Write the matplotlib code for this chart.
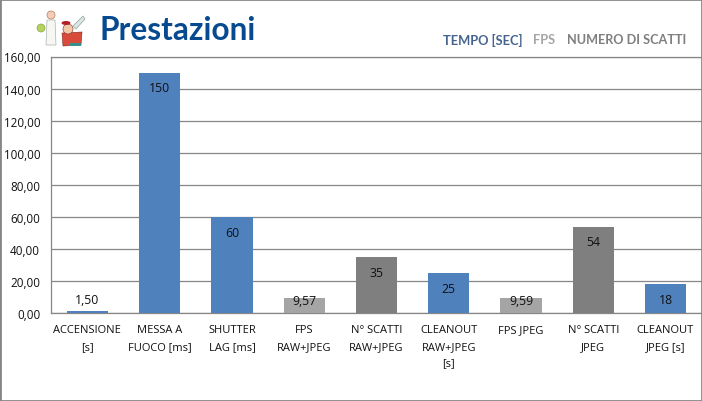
import matplotlib
matplotlib.use("Agg")
import matplotlib.pyplot as plt
from matplotlib.patches import Circle, Ellipse, Polygon, Rectangle

#%% Dati

categorie = ["ACCENSIONE\n[s]", "MESSA A\nFUOCO [ms]", "SHUTTER\nLAG [ms]",
             "FPS\nRAW+JPEG", "N° SCATTI\nRAW+JPEG", "CLEANOUT\nRAW+JPEG\n[s]",
             "FPS JPEG", "N° SCATTI\nJPEG", "CLEANOUT\nJPEG [s]"]
valori = [1.5, 150, 60, 9.57, 35, 25, 9.59, 54, 18]
etichette = ["1,50", "150", "60", "9,57", "35", "25", "9,59", "54", "18"]
gruppi = ["t", "t", "t", "f", "n", "t", "f", "n", "t"]
tick_y = [0, 20, 40, 60, 80, 100, 120, 140, 160]

colori = {"t": "#4F81BD", "f": "#A5A5A5", "n": "#7F7F7F"}
W, H = 702, 402

plt.rcParams["font.family"] = ["Open Sans", "DejaVu Sans"]

fig = plt.figure(figsize=(W / 100, H / 100), dpi=100)
ax = fig.add_axes([51.3 / W, 1 - 314.3 / H, 650.3 / W, (314.3 - 57.5) / H])

x = list(range(len(valori)))
ax.bar(x, valori, width=0.57, color=[colori[g] for g in gruppi], zorder=3)

ax.set_xlim(-0.5, len(valori) - 0.5)
ax.set_ylim(0, 160)
ax.set_yticks(tick_y)
ax.set_yticklabels([f"{v},00" for v in tick_y], fontsize=8.4, color="#111111")
ax.set_xticks(x)
ax.set_xticklabels(categorie, fontsize=8.0, color="#111111", linespacing=1.68)
ax.tick_params(axis="both", length=0)
ax.tick_params(axis="x", pad=8)
ax.tick_params(axis="y", pad=8)
ax.grid(axis="y", color="#868686", linewidth=0.9, zorder=1)
for lato in ["top", "right"]:
    ax.spines[lato].set_visible(False)
for lato in ["left", "bottom"]:
    ax.spines[lato].set_color("#868686")
    ax.spines[lato].set_linewidth(0.9)
ax.plot([0, 1], [1, 1], transform=ax.transAxes, color="#868686", lw=0.9, clip_on=False)

# Etichette dei valori
for xi, v, txt in zip(x, valori, etichette):
    if v < 5:
        off = 8
    elif v < 10:
        off = -2
    else:
        off = -11
    ax.annotate(txt, (xi, v), xytext=(0, off), textcoords="offset points",
                ha="center", va="center", fontsize=8.8, color="#111111", zorder=4)

# Titolo e legenda
fig.text(100 / W, 1 - 30 / H, "Prestazioni", family="Lato", fontweight="bold",
         fontsize=22.8, color="#074A8F", ha="left", va="center")
fig.text(443 / W, 1 - 40.5 / H, "TEMPO [SEC]", family="Lato", fontweight="bold",
         fontsize=9.3, color="#44648F", ha="left", va="center")
fig.text(533 / W, 1 - 40.5 / H, "FPS", family="Lato", fontweight="bold",
         fontsize=9.2, color="#A5A5A5", ha="left", va="center")
fig.text(567 / W, 1 - 40.5 / H, "NUMERO DI SCATTI", family="Lato", fontweight="bold",
         fontsize=9.1, color="#7F7F7F", ha="left", va="center")

# Icona in alto a sinistra, disegnata a mano
ic = fig.add_axes([0, 0, 1, 1], facecolor="none")
ic.set_xlim(0, W)
ic.set_ylim(H, 0)
ic.axis("off")
ic.add_patch(Polygon([[47, 21], [55, 21], [56, 46], [46, 46]], fc="#F6F6F2", ec="#A9B4B0", lw=0.5))
ic.add_patch(Circle((51, 16), 4, fc="#F3CDB8", ec="#B87A60", lw=0.5))
ic.add_patch(Ellipse((41, 29), 8, 8, fc="#B5D25A", ec="#7E9A3A", lw=0.4))
ic.add_patch(Polygon([[62, 34], [82, 33], [81, 46], [63, 47]], fc="#D84A3A", ec="#7A2A20", lw=0.4))
ic.add_patch(Circle((68, 30), 5, fc="#F0C9A8", ec="#7A2A20", lw=0.4))
ic.add_patch(Ellipse((66, 24), 9, 4, fc="#B3202A"))
ic.add_patch(Polygon([[73, 27], [83, 17], [85, 20], [76, 30]], fc="#DCE7E4", ec="#8FA5A0", lw=0.5))
ic.add_patch(Rectangle((69, 44), 12, 3, fc="#3B8F8A"))

# Cornice esterna
fig.add_artist(Rectangle((0, 0), 1, 1, transform=fig.transFigure, fill=False,
                         ec="#868686", lw=2))

fig.savefig("out.png", dpi=100)
